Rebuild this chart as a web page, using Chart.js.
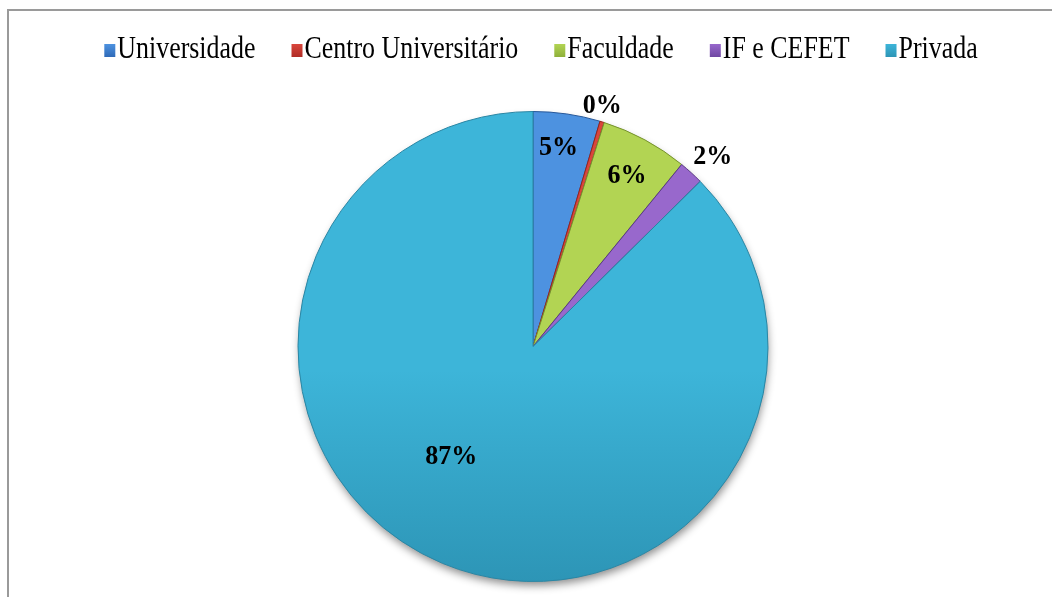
<!DOCTYPE html>
<html>
<head>
<meta charset="utf-8">
<script src="https://cdn.jsdelivr.net/npm/chart.js@4.4.1/dist/chart.umd.min.js"></script>
<style>
  html, body { margin: 0; padding: 0; background: #fff; }
  #wrap { position: relative; width: 1052px; height: 597px; overflow: hidden; }
  #frame { position: absolute; left: 7px; top: 9px; width: 1100px; height: 700px;
           border-top: 2px solid #9a9a9a; border-left: 2px solid #9a9a9a; box-sizing: border-box; }
  canvas { position: absolute; left: 0; top: 0; }
</style>
</head>
<body>
<div id="wrap">
  <div id="frame"></div>
  <canvas id="c" width="1052" height="597"></canvas>
</div>
<script>
// ---- data ----
const categories = ['Universidade', 'Centro Universitário', 'Faculdade', 'IF e CEFET', 'Privada'];
const values = [4.6, 0.3, 6.0, 1.7, 87.4];

// ---- styles ----
const lightColors = ['#4d92e0', '#d9463c', '#b2d453', '#9868cc', '#3db5d9'];
const darkColors  = ['#2f6ab8', '#b02c25', '#8fb03a', '#6f47a2', '#2d95b6'];
const edgeColors  = ['#27589a', '#9a231d', '#76922e', '#5a3886', '#2a86a4'];
// label placement: radius factor and angle tweak (deg) relative to slice middle
const labelPlace = [
  { r: 0.858, da: -1.0 },
  { r: 1.071, da: -1.1 },
  { r: 0.835, da: 0.2 },
  { r: 1.115, da: 1.0 },
  { r: 0.582, da: 14.0 }
];

const total = values.reduce((a, b) => a + b, 0);
const pctLabels = values.map(v => Math.round(v / total * 100) + '%');

function drawScaledText(ctx, text, x, y, sx) {
  ctx.save();
  ctx.translate(x, y);
  ctx.scale(sx, 1);
  ctx.fillText(text, 0, 0);
  ctx.restore();
}

const shadowPlugin = {
  id: 'pieShadow',
  beforeDatasetsDraw(chart) {
    const meta = chart.getDatasetMeta(0);
    if (!meta.data.length) return;
    const a = meta.data[0];
    const ctx = chart.ctx;
    ctx.save();
    ctx.shadowColor = 'rgba(0,0,0,0.45)';
    ctx.shadowBlur = 9;
    ctx.shadowOffsetX = 1;
    ctx.shadowOffsetY = 5;
    ctx.beginPath();
    ctx.arc(a.x, a.y, a.outerRadius - 1, 0, Math.PI * 2);
    ctx.fillStyle = darkColors[4];
    ctx.fill();
    ctx.restore();
  }
};

const labelPlugin = {
  id: 'pctLabels',
  afterDatasetsDraw(chart) {
    const meta = chart.getDatasetMeta(0);
    const ctx = chart.ctx;
    ctx.save();
    ctx.font = 'bold 28px "Liberation Serif", "Times New Roman", serif';
    ctx.fillStyle = '#000';
    ctx.textAlign = 'center';
    ctx.textBaseline = 'middle';
    meta.data.forEach((arc, i) => {
      const p = labelPlace[i];
      const mid = (arc.startAngle + arc.endAngle) / 2 + p.da * Math.PI / 180;
      const r = arc.outerRadius * p.r;
      const x = arc.x + Math.cos(mid) * r;
      const y = arc.y + Math.sin(mid) * r + 1;
      drawScaledText(ctx, pctLabels[i], x, y, 0.93);
    });
    ctx.restore();
  }
};

const legendPlugin = {
  id: 'condensedLegend',
  afterDraw(chart) {
    const ctx = chart.ctx;
    const sx = 0.81;
    const boxW = 11, boxH = 13, boxGap = 2, itemGap = 36;
    ctx.save();
    ctx.font = '32px "Liberation Serif", "Times New Roman", serif';
    const widths = categories.map(t => ctx.measureText(t).width * sx);
    const totalW = widths.reduce((a, w) => a + boxW + boxGap + w, 0) + itemGap * (categories.length - 1);
    let x = 541 - totalW / 2;
    const baseY = 58;
    categories.forEach((t, i) => {
      const top = baseY - 14;
      const g = ctx.createLinearGradient(0, top, 0, top + boxH);
      g.addColorStop(0, lightColors[i]);
      g.addColorStop(1, darkColors[i]);
      ctx.fillStyle = g;
      ctx.fillRect(x, top, boxW, boxH);
      ctx.fillStyle = '#000';
      ctx.textAlign = 'left';
      ctx.textBaseline = 'alphabetic';
      drawScaledText(ctx, t, x + boxW + boxGap, baseY, sx);
      x += boxW + boxGap + widths[i] + itemGap;
    });
    ctx.restore();
  }
};

function sliceFill(context) {
  const chart = context.chart;
  const area = chart.chartArea;
  const i = context.dataIndex;
  if (!area) return lightColors[i];
  const g = chart.ctx.createLinearGradient(0, area.top, 0, area.bottom);
  g.addColorStop(0, lightColors[i]);
  g.addColorStop(0.55, lightColors[i]);
  g.addColorStop(1, darkColors[i]);
  return g;
}

new Chart(document.getElementById('c'), {
  type: 'pie',
  data: {
    labels: categories,
    datasets: [{
      data: values,
      backgroundColor: sliceFill,
      borderColor: edgeColors,
      borderWidth: 1
    }]
  },
  options: {
    responsive: false,
    animation: false,
    layout: { padding: { top: 111, bottom: 15, left: 14, right: 0 } },
    plugins: {
      legend: { display: false },
      tooltip: { enabled: false }
    }
  },
  plugins: [shadowPlugin, labelPlugin, legendPlugin]
});
</script>
</body>
</html>
